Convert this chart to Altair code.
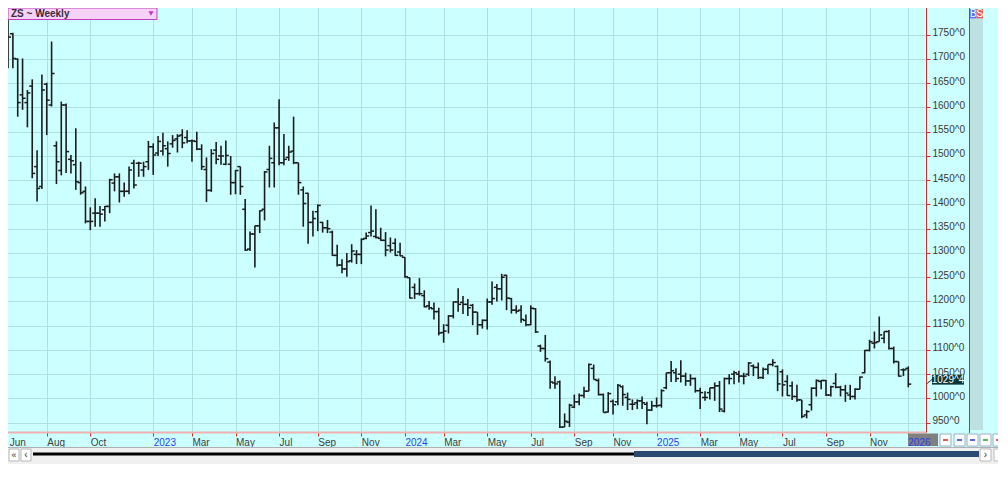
import altair as alt
import pandas as pd

# ---------------- data (weekly OHLC, ZS continuous, first bar week of 3 Jun 2022) --------------
opens = [1735,1705,1752,1700,1626,1610,1644,1478,1437,1648,
         1605,1521,1470,1605,1493,1482,1445,1427,1365,1382,
         1382,1389,1396,1444,1457,1427,1427,1485,1485,1471,
         1488,1519,1506,1510,1515,1525,1535,1543,1538,1531,
         1530,1514,1472,1429,1512,1500,1483,1483,1445,1478,
         1390,1308,1339,1356,1390,1472,1486,1558,1486,1497,
         1510,1486,1430,1423,1363,1385,1363,1352,1343,1295,
         1275,1267,1284,1297,1297,1330,1342,1334,1330,1326,
         1315,1320,1302,1291,1249,1229,1216,1212,1191,1185,
         1179,1136,1151,1170,1199,1198,1194,1192,1178,1152,
         1161,1199,1229,1226,1254,1206,1182,1182,1161,1152,
         1185,1108,1103,1075,1032,1034,941,951,982,993,
         1006,1015,1062,1037,1008,972,994,993,1024,1002,
         988,991,995,988,976,985,986,1022,1053,1053,
         1050,1046,1036,1041,1016,1002,1012,1022,1026,974,
         1041,1050,1050,1046,1050,1067,1064,1043,1060,1070,
         1066,1055,1035,1026,1004,997,966,987,1021,1035,
         1037,1007,1031,1023,1018,1007,1004,1019,1053,1099,
         1114,1117,1124,1138,1103,1076,1059,1062]
highs = [1745,1782,1754,1701,1701,1636,1658,1512,1668,1651,
         1736,1530,1612,1608,1502,1557,1488,1437,1394,1413,
         1397,1397,1453,1464,1464,1445,1478,1492,1488,1488,
         1531,1526,1541,1548,1530,1543,1545,1555,1553,1534,
         1550,1524,1497,1514,1529,1521,1532,1500,1471,1478,
         1411,1344,1356,1388,1469,1521,1569,1617,1545,1521,
         1581,1486,1437,1424,1387,1400,1364,1368,1346,1317,
         1287,1300,1318,1306,1330,1342,1398,1390,1352,1343,
         1332,1330,1321,1291,1249,1237,1248,1223,1201,1198,
         1187,1153,1172,1200,1227,1211,1205,1195,1178,1163,
         1206,1241,1236,1257,1255,1207,1192,1192,1173,1192,
         1186,1111,1131,1078,1046,1037,969,989,1008,1010,
         1024,1072,1070,1041,1010,1013,998,1030,1027,1012,
         998,998,1004,993,995,1002,1019,1053,1077,1062,
         1079,1053,1050,1043,1022,1015,1022,1033,1036,1043,
         1050,1057,1057,1053,1075,1070,1074,1064,1070,1081,
         1068,1060,1048,1035,1028,997,976,1023,1039,1038,
         1038,1026,1052,1026,1028,1028,1021,1045,1100,1121,
         1138,1169,1138,1141,1107,1076,1062,1066]
lows = [1672,1681,1681,1581,1595,1559,1454,1406,1432,1543,
        1602,1442,1460,1465,1464,1430,1420,1361,1347,1354,
        1354,1365,1382,1427,1404,1416,1421,1433,1457,1457,
        1471,1461,1500,1501,1478,1517,1507,1516,1526,1488,
        1512,1471,1405,1426,1483,1482,1481,1420,1421,1420,
        1304,1304,1270,1341,1367,1435,1435,1481,1481,1490,
        1483,1420,1354,1319,1334,1345,1342,1341,1294,1272,
        1258,1251,1280,1277,1277,1328,1334,1330,1325,1293,
        1301,1294,1293,1249,1206,1205,1212,1188,1183,1163,
        1130,1115,1134,1165,1179,1174,1170,1151,1131,1144,
        1142,1193,1200,1202,1182,1175,1175,1156,1149,1151,
        1135,1096,1076,1020,1020,939,941,941,980,986,
        1001,1015,1039,1006,971,971,967,986,985,976,
        976,978,978,947,974,981,981,1019,1034,1034,
        1033,1026,1026,1012,978,995,998,995,972,971,
        1029,1029,1033,1029,1046,1046,1040,1040,1050,1066,
        1015,1004,1005,997,993,959,959,975,1004,1019,
        1005,1004,1021,1004,993,997,998,1019,1052,1097,
        1103,1117,1114,1101,1072,1045,1046,1023]
closes = [1700,1745,1701,1610,1619,1630,1464,1433,1636,1615,
          1670,1488,1605,1509,1490,1447,1424,1365,1365,1382,
          1380,1396,1451,1457,1427,1427,1471,1440,1485,1478,
          1519,1502,1530,1521,1505,1532,1541,1527,1531,1531,
          1514,1478,1429,1505,1493,1500,1501,1445,1470,1437,
          1306,1339,1356,1387,1467,1495,1558,1486,1493,1508,
          1486,1445,1402,1363,1371,1398,1352,1350,1295,1275,
          1267,1282,1304,1297,1328,1335,1345,1332,1326,1306,
          1306,1295,1294,1251,1207,1216,1216,1189,1187,1179,
          1135,1139,1170,1199,1194,1194,1187,1178,1152,1161,
          1199,1206,1226,1250,1207,1182,1180,1163,1152,1186,
          1137,1103,1082,1034,1030,941,953,986,993,1006,
          1015,1070,1039,1008,971,1010,987,1027,1008,998,
          988,995,991,976,985,985,1016,1053,1057,1041,
          1046,1036,1041,1016,1012,1002,1022,1026,978,1041,
          1041,1053,1046,1046,1073,1064,1043,1060,1070,1074,
          1030,1028,1006,1004,997,963,973,1021,1037,1037,
          1007,1024,1023,1018,1011,1004,1019,1044,1099,1117,
          1115,1131,1138,1103,1076,1046,1059,1029.5]

tick_idx = [0, 9, 18, 31, 39, 48, 57, 65, 74, 83, 91, 100, 109, 118, 126,
            135, 144, 152, 161, 170, 179, 187]
tick_labels = ["Jun", "Aug", "Oct", "2023", "Mar", "May", "Jul", "Sep", "Nov",
               "2024", "Mar", "May", "Jul", "Sep", "Nov", "2025", "Mar", "May",
               "Jul", "Sep", "Nov", "2026"]
year_idx = [31, 83, 135, 187]
price_ticks = [950, 1000, 1050, 1100, 1150, 1200, 1250, 1300, 1350, 1400,
               1450, 1500, 1550, 1600, 1650, 1700, 1750]
last_label = "1029^4"
title_text = "ZS ~ Weekly"

n = len(closes)
df = pd.DataFrame({
    "i": list(range(n)),
    "week": pd.date_range("2022-06-03", periods=n, freq="7D").strftime("%Y-%m-%d"),
    "open": opens, "high": highs, "low": lows, "close": closes,
})
lastdf = pd.DataFrame({"i": [n - 1], "v": [closes[-1]], "t": [last_label]})
yeardf = pd.DataFrame({"i": [year_idx[-1]], "t": [tick_labels[-1]]})
one = pd.DataFrame({"k": [0]})

# ---------------- styling ----------------
FONT = "Liberation Sans"
BAR = "#1c1c1c"
GRID = "#ade0e0"
RED = "#e02828"
W, H = 926, 432

xs = alt.Scale(domain=[-0.66, 190.66], nice=False, zero=False)
ys = alt.Scale(domain=[930.8, 1821.55], nice=False, zero=False)

lab_arr = "[" + ",".join("'" + s + "'" for s in tick_labels) + "]"
idx_arr = "[" + ",".join(str(v) for v in tick_idx) + "]"
yr_arr = "[" + ",".join(str(v) for v in year_idx) + "]"

xaxis = alt.Axis(
    orient="bottom", values=tick_idx, title=None,
    labelExpr=lab_arr + "[indexof(" + idx_arr + ", datum.value)]",
    grid=True, gridColor=GRID, gridWidth=1,
    domainColor="#f0b0b0", domainWidth=2,
    tickColor=RED, tickSize=4, tickWidth=1,
    labelAlign="left", labelBaseline="top", labelPadding=1,
    labelFont=FONT, labelFontSize=10, labelOverlap=False, labelFlush=False,
    labelOffset={"condition": {"test": "datum.value == 0", "value": 6}, "value": 0},
    labelColor={"condition": {"test": "indexof(" + yr_arr + ", datum.value) >= 0",
                              "value": "#2b3cf0"}, "value": "#404040"},
)
yaxis = alt.Axis(
    orient="right", values=price_ticks, title=None,
    labelExpr="datum.value + '^0'",
    grid=True, gridColor=GRID, gridWidth=1,
    domainColor=RED, domainWidth=1,
    tickColor=RED, tickSize=4, tickWidth=1,
    labelPadding=2, labelFont=FONT, labelFontSize=10, labelColor="#383838",
    labelOffset=-2, labelOverlap=False,
)

X = alt.X("i:Q", scale=xs, axis=xaxis)


def box(x1, x2, y1, y2, fill, stroke=None, sw=1):
    kw = dict(fill=fill, strokeWidth=sw)
    if stroke:
        kw["stroke"] = stroke
    return alt.Chart(one).mark_rect(**kw).encode(
        x=alt.value(x1), x2=alt.value(x2), y=alt.value(y1), y2=alt.value(y2))


def hline(x1, x2, y, color, sw=1):
    return alt.Chart(one).mark_rule(color=color, strokeWidth=sw).encode(
        x=alt.value(x1), x2=alt.value(x2), y=alt.value(y))


def vline(x, y1, y2, color, sw=1):
    return alt.Chart(one).mark_rule(color=color, strokeWidth=sw).encode(
        x=alt.value(x), y=alt.value(y1), y2=alt.value(y2))


def label(x, y, txt, color="#333333", size=10, weight="normal", align="left"):
    return alt.Chart(one).mark_text(
        text=txt, align=align, baseline="middle", font=FONT, fontSize=size,
        fontWeight=weight, color=color).encode(x=alt.value(x), y=alt.value(y))


# ---------------- OHLC bars ----------------
base = alt.Chart(df)
hl = base.mark_rule(color=BAR, strokeWidth=1.6).encode(
    x=X, y=alt.Y("low:Q", scale=ys, axis=yaxis), y2="high:Q",
    tooltip=["week:N", "open:Q", "high:Q", "low:Q", "close:Q"])
op = base.mark_tick(orient="horizontal", size=3, thickness=1.5, xOffset=-1.5,
                    color=BAR, opacity=1).encode(
    x=X, y=alt.Y("open:Q", scale=ys, axis=yaxis))
cl = base.mark_tick(orient="horizontal", size=3, thickness=1.5, xOffset=1.5,
                    color=BAR, opacity=1).encode(
    x=X, y=alt.Y("close:Q", scale=ys, axis=yaxis))

# ---------------- chrome ----------------
chrome_back = [
    box(970, 983, 19, 430, "#bde0e0"),
    vline(969.5, 0, 433, RED),
]

pointer = alt.Chart(one).mark_rule(color="#333333", strokeWidth=1).encode(
    x=alt.value(926.5), x2=alt.value(932), y=alt.value(384), y2=alt.value(379.5))
price_box = alt.Chart(lastdf).mark_tick(
    orient="horizontal", size=32, thickness=10, color="#0d3636", opacity=1,
    yOffset=-4.5).encode(x=alt.value(948), y=alt.Y("v:Q", scale=ys, axis=yaxis))
price_txt = alt.Chart(lastdf).mark_text(
    color="white", font=FONT, fontSize=10, align="center", baseline="middle",
    yOffset=-4.5).encode(x=alt.value(948), y=alt.Y("v:Q", scale=ys, axis=yaxis),
                         text="t:N")

yr_box = box(908, 938, 433.5, 446, "#808080")
yr_txt = alt.Chart(yeardf).mark_text(
    color="#2b3cf0", font=FONT, fontSize=10, align="left", baseline="top",
    dy=5.5).encode(x=X, y=alt.value(432), text="t:N")

header = [
    box(8, 157, 8, 19.5, "#f6d2f6", "#c040c0", 1),
    label(11, 14, title_text, "#3a2a3a", 10, "bold"),
    alt.Chart(one).mark_point(shape="triangle-down", filled=True, size=26,
                              color="#cc30cc", opacity=1).encode(
        x=alt.value(151), y=alt.value(13.5)),
]

bs = [
    box(970, 976.5, 9, 18.5, "#5070ff"),
    box(976.5, 983, 9, 18.5, "#ee5858"),
    label(973.3, 14, "B", "white", 10, align="center"),
    label(979.8, 14, "S", "white", 10, align="center"),
]

bottom = [
    box(0, 1008, 447, 480, "#f0f0f0"),
    hline(0, 1008, 447.5, "#b0b0b0"),
    box(9, 19, 449, 461, "white", "#b8b8b8"),
    box(21, 31, 449, 461, "white", "#b8b8b8"),
    label(14, 455, "«", "#333333", 9, align="center"),
    label(26, 455, "‹", "#333333", 10, align="center"),
    hline(33, 634, 454, "#000000", 3),
    box(634, 979, 451, 457, "#2b4a72"),
    box(980, 991, 449, 461, "white", "#b8b8b8"),
    box(994, 1005, 449, 461, "white", "#b8b8b8"),
    label(985.5, 455, "›", "#333333", 10, align="center"),
]

btn_cols = ["#e02020", "#2030e0", "#2030e0", "#20a020", "#e02020"]
btn_x = [940, 954, 967, 980, 993]
buttons = []
for bx, bc in zip(btn_x, btn_cols):
    buttons.append(box(bx, bx + 11, 434, 446, "white", "#9ab0c0"))
    buttons.append(hline(bx + 3, bx + 8, 440, bc, 1.5))

layers = chrome_back + [hl, op, cl, pointer, price_box, price_txt, yr_box, yr_txt] \
    + header + bs + bottom + buttons

chart = alt.layer(*layers).properties(
    width=W, height=H,
    autosize=alt.AutoSizeParams(type="none"),
    padding={"left": -8, "top": -8, "right": 72, "bottom": 32},
    background="#ccffff",
).configure_view(fill="#ccffff", stroke=None)

chart.save("out.html", embed_options={"renderer": "svg", "actions": False})
